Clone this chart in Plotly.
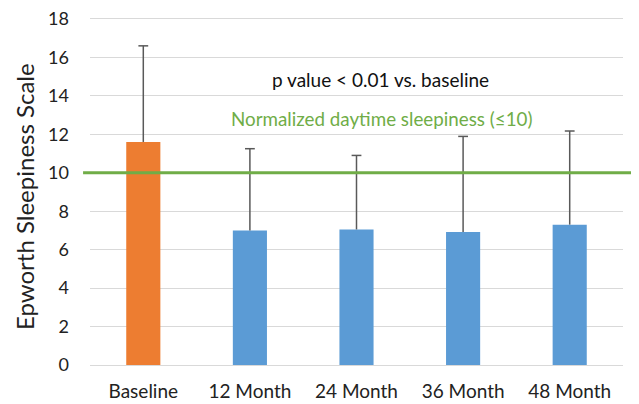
import plotly.graph_objects as go

categories = ["Baseline", "12 Month", "24 Month", "36 Month", "48 Month"]
means = [11.6, 7.0, 7.05, 6.92, 7.3]
sd_upper = [5.0, 4.25, 3.85, 4.97, 4.87]
bar_colors = ["#ED7D31", "#5B9BD5", "#5B9BD5", "#5B9BD5", "#5B9BD5"]
y_ticks = [0, 2, 4, 6, 8, 10, 12, 14, 16, 18]
threshold = 10

FONT = "Lato, Carlito, Calibri, sans-serif"
ERR_COLOR = "#595959"

fig = go.Figure()
fig.add_trace(go.Bar(
    x=categories, y=means,
    marker=dict(color=bar_colors, line=dict(width=0)),
    width=0.32, hoverinfo="x+y",
))

# one-sided (upper) error bars: stem from bar top to mean+SD, cap at top only
tops = [m + s for m, s in zip(means, sd_upper)]
fig.add_trace(go.Scatter(
    x=categories, y=tops, mode="markers",
    marker=dict(symbol="line-ew-open", size=7, color=ERR_COLOR,
                line=dict(color=ERR_COLOR, width=1.5)),
    error_y=dict(type="data", symmetric=False, array=[0]*len(tops), arrayminus=sd_upper,
                 color=ERR_COLOR, thickness=1.5, width=0),
    cliponaxis=False,
))

fig.add_shape(type="line", xref="paper", yref="y",
              x0=-0.013, x1=1.0225, y0=threshold, y1=threshold,
              line=dict(color="#70AD47", width=3), layer="above")

fig.add_annotation(text="p value < 0.01 vs. baseline", xref="paper", yref="y",
                   x=(380-90)/533, y=14.85, showarrow=False,
                   font=dict(family=FONT, size=19, color="#111111"))
fig.add_annotation(text="Normalized daytime sleepiness (≤10)", xref="paper", yref="y",
                   x=(381-90)/533, y=12.82, showarrow=False,
                   font=dict(family=FONT, size=18.8, color="#70AD47"))

# page body has an 8px default margin, so the figure is drawn 8px smaller
fig.update_layout(
    width=631, height=396,
    margin=dict(l=82, r=16, t=9, b=39, autoexpand=False),
    paper_bgcolor="white", plot_bgcolor="white",
    showlegend=False,
    font=dict(family=FONT, color="#222222"),
    xaxis=dict(showgrid=False, showline=False, ticks="", ticklabelstandoff=13,
               tickfont=dict(family=FONT, size=19, color="#222222")),
    yaxis=dict(range=[0, 18.1], tickvals=y_ticks, showgrid=True, gridcolor="#D9D9D9",
               gridwidth=1, zeroline=True, zerolinecolor="#D9D9D9", zerolinewidth=1,
               ticks="", ticklabelstandoff=20, ticklabeloverflow="allow",
               tickfont=dict(family=FONT, size=18, color="#222222")),
)

fig.add_annotation(text="Epworth Sleepiness Scale", xref="paper", yref="paper",
                   x=(24-90)/533, y=(404-39-198)/346, xanchor="center", yanchor="middle",
                   textangle=-90, showarrow=False,
                   font=dict(family=FONT, size=24, color="#222222"))

fig.write_html("out.html")
